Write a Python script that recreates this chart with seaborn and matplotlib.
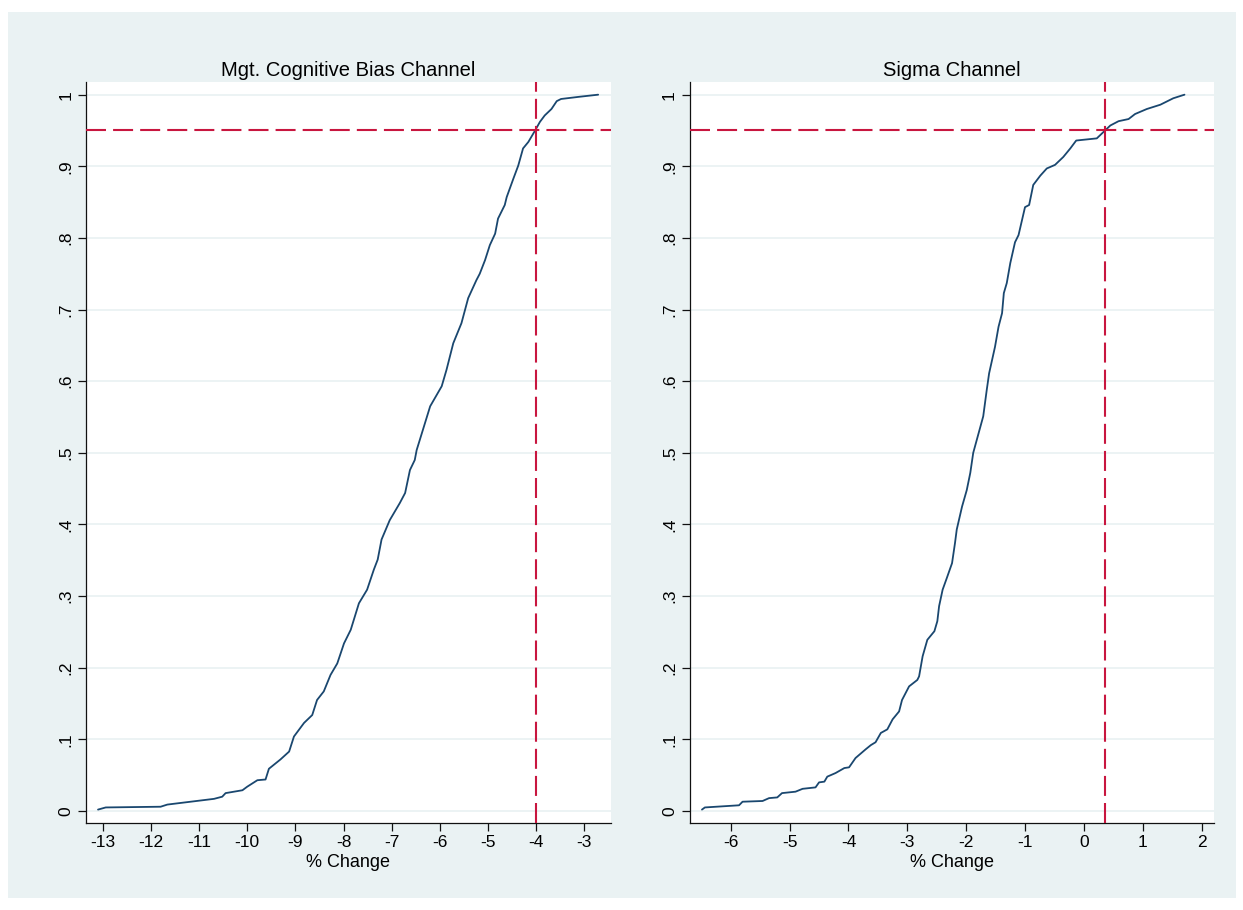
import matplotlib
matplotlib.use("Agg")
import matplotlib.pyplot as plt
import seaborn as sns
import pandas as pd
from matplotlib.patches import Rectangle

# ---------------- data ----------------
titles = ["Mgt. Cognitive Bias Channel", "Sigma Channel"]
x_label = "% Change"

cog_x = [-13.10, -12.94, -11.80, -11.66, -10.69, -10.52, -10.45, -10.10, -10.00,
         -9.79, -9.62, -9.55, -9.31, -9.13, -9.03, -8.82, -8.65, -8.55, -8.41,
         -8.27, -8.13, -7.99, -7.85, -7.68, -7.51, -7.37, -7.29, -7.21, -7.04,
         -6.83, -6.72, -6.62, -6.52, -6.48, -6.31, -6.20, -5.96, -5.86, -5.72,
         -5.55, -5.41, -5.24, -5.17, -5.06, -4.96, -4.85, -4.79, -4.65, -4.61,
         -4.47, -4.37, -4.27, -4.16, -4.02, -3.92, -3.82, -3.68, -3.57, -3.48,
         -3.11, -2.71]
cog_F = [0.002, 0.005, 0.006, 0.009, 0.017, 0.020, 0.025, 0.029, 0.034,
         0.043, 0.044, 0.059, 0.072, 0.083, 0.104, 0.123, 0.134, 0.155, 0.167,
         0.190, 0.206, 0.234, 0.253, 0.290, 0.309, 0.337, 0.351, 0.379, 0.406,
         0.430, 0.444, 0.476, 0.490, 0.504, 0.541, 0.565, 0.593, 0.616, 0.653,
         0.681, 0.716, 0.741, 0.750, 0.769, 0.790, 0.806, 0.827, 0.846, 0.857,
         0.883, 0.901, 0.925, 0.934, 0.950, 0.962, 0.971, 0.980, 0.991, 0.994,
         0.997, 1.000]

sig_x = [-6.49, -6.44, -5.86, -5.80, -5.46, -5.35, -5.21, -5.13, -4.90, -4.78,
         -4.56, -4.50, -4.41, -4.36, -4.22, -4.07, -3.99, -3.88, -3.71, -3.62,
         -3.54, -3.45, -3.34, -3.25, -3.14, -3.09, -2.97, -2.83, -2.80, -2.74,
         -2.66, -2.54, -2.49, -2.46, -2.40, -2.33, -2.24, -2.19, -2.16, -2.07,
         -1.99, -1.93, -1.88, -1.79, -1.71, -1.65, -1.61, -1.51, -1.45, -1.39,
         -1.36, -1.31, -1.25, -1.17, -1.11, -1.00, -0.93, -0.86, -0.74, -0.63,
         -0.49, -0.35, -0.23, -0.13, 0.22, 0.36, 0.45, 0.59, 0.76, 0.87,
         1.07, 1.30, 1.52, 1.71]
sig_F = [0.002, 0.005, 0.008, 0.013, 0.014, 0.018, 0.019, 0.025, 0.027, 0.031,
         0.033, 0.040, 0.041, 0.048, 0.053, 0.060, 0.061, 0.074, 0.086, 0.092,
         0.096, 0.109, 0.114, 0.128, 0.139, 0.155, 0.174, 0.183, 0.188, 0.216,
         0.239, 0.251, 0.265, 0.286, 0.309, 0.325, 0.346, 0.374, 0.393, 0.425,
         0.448, 0.472, 0.500, 0.527, 0.551, 0.588, 0.611, 0.648, 0.676, 0.695,
         0.723, 0.737, 0.765, 0.794, 0.804, 0.843, 0.846, 0.874, 0.887, 0.897,
         0.902, 0.913, 0.925, 0.936, 0.939, 0.950, 0.957, 0.963, 0.966, 0.973,
         0.980, 0.986, 0.995, 1.000]

h_line = [0.95, 0.95]
v_line = [-4.0, 0.36]

cog_ticks = [-13, -12, -11, -10, -9, -8, -7, -6, -5, -4, -3]
sig_ticks = [-6, -5, -4, -3, -2, -1, 0, 1, 2]
y_ticks = [0, 0.1, 0.2, 0.3, 0.4, 0.5, 0.6, 0.7, 0.8, 0.9, 1.0]
y_ticklabels = ["0", ".1", ".2", ".3", ".4", ".5", ".6", ".7", ".8", ".9", "1"]

# ---------------- style ----------------
sns.set_style("white")
plt.rcParams["font.family"] = ["Liberation Sans", "DejaVu Sans"]

BG = "#EAF2F3"
NAVY = "#1A476F"
RED = "#C8163F"

fig = plt.figure(figsize=(12.43, 9.10), dpi=100, facecolor="white")
bg_rect = Rectangle((8 / 1243, 1 - 898 / 910), 1228 / 1243, 886 / 910,
                    transform=fig.transFigure, facecolor=BG,
                    edgecolor="none", zorder=-10)
fig.add_artist(bg_rect)

ax_bottom = 1 - 822.7 / 910
ax_height = (822.7 - 82) / 910
ax1 = fig.add_axes([86 / 1243, ax_bottom, (611 - 86) / 1243, ax_height])
ax2 = fig.add_axes([689.6 / 1243, ax_bottom, (1213.9 - 689.6) / 1243, ax_height])

panels = [
    (ax1, cog_x, cog_F, cog_ticks, (-13.35, -2.443), titles[0], v_line[0], h_line[0]),
    (ax2, sig_x, sig_F, sig_ticks, (-6.70, 2.21), titles[1], v_line[1], h_line[1]),
]

for ax, xs, fs, xt, xlim, title, vx, hy in panels:
    ax.set_facecolor("white")
    df = pd.DataFrame({"x": xs, "F": fs})
    ax.set_yticks(y_ticks)
    ax.yaxis.grid(True, color=BG, linewidth=1.3, zorder=0)
    ax.xaxis.grid(False)
    ax.set_axisbelow(True)
    sns.lineplot(data=df, x="x", y="F", ax=ax, sort=False, estimator=None,
                 color=NAVY, linewidth=1.3, zorder=3)
    ax.axhline(hy, color=RED, linewidth=1.5, dashes=(9.6, 3.4), zorder=4)
    ax.axvline(vx, color=RED, linewidth=1.5, dashes=(9.6, 3.4), zorder=4)

    ax.set_xlim(*xlim)
    ax.set_ylim(-0.0163, 1.0177)
    ax.set_xticks(xt)
    ax.set_xticklabels([str(t) for t in xt])
    ax.set_yticklabels(y_ticklabels)

    for s in ["top", "right"]:
        ax.spines[s].set_visible(False)
    for s in ["left", "bottom"]:
        ax.spines[s].set_color("#111111")
        ax.spines[s].set_linewidth(0.9)

    ax.tick_params(axis="both", direction="out", length=6, width=0.9,
                   color="#111111", labelsize=12.5, labelcolor="black",
                   left=True, bottom=True)
    ax.tick_params(axis="x", pad=3.0)
    ax.tick_params(axis="y", pad=3, labelrotation=90)
    for lab in ax.get_yticklabels():
        lab.set_verticalalignment("center")
        lab.set_horizontalalignment("right")

    ax.set_xlabel(x_label, fontsize=13, color="black", labelpad=2.5)
    ax.set_ylabel("")
    ax.set_title(title, fontsize=14.5, color="black", pad=4.5)

fig.savefig("out.png", dpi=100, facecolor="white")
